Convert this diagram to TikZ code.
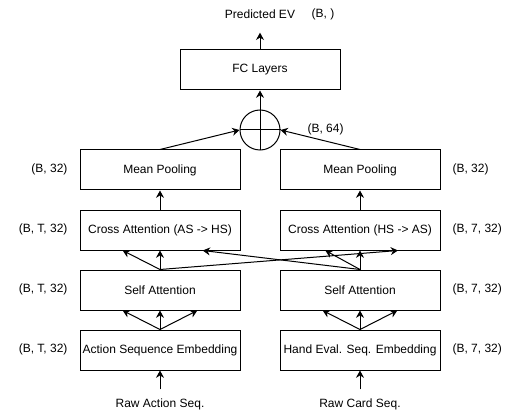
\documentclass[tikz,border=0pt]{standalone}
\usepackage{fontspec}
\setmainfont{Liberation Sans}
\usepackage{tikz}
\usetikzlibrary{arrows.meta}

\begin{document}
\begin{tikzpicture}[x=0.75pt, y=-0.75pt, line width=0.75pt,
        font=\fontsize{9}{11}\selectfont,
        block/.style={draw, minimum width=120pt, minimum height=30pt, inner sep=1pt},
        dim/.style={inner sep=0pt},
        arr/.style={-{Stealth[length=5.5pt, width=6pt, inset=1.8pt]}}]
        \useasboundingbox (0,0) rectangle (520,420);

        \node (out) at (260,14) {Predicted EV};
        \node[dim] (outdim) at (323,14) {(B, )};
        \node[block] (fc) at (260,70) {FC Layers};
        \node[circle, draw, minimum size=30pt, inner sep=0pt] (sum) at (260,130) {};
        \node[dim, anchor=west] (sumdim) at (307,129) {(B, 64)};

        \node[block] (mpA) at (160,170) {Mean Pooling};
        \node[block] (mpB) at (360,170) {Mean Pooling};
        \node[block] (caA) at (160,230) {Cross Attention (AS -> HS)};
        \node[block] (caB) at (360,230) {Cross Attention (HS -> AS)};
        \node[block] (saA) at (160,290) {Self Attention};
        \node[block] (saB) at (360,290) {Self Attention};
        \node[block] (embA) at (160,350) {Action Sequence Embedding};
        \node[block] (embB) at (360,350) {Hand Eval. Seq. Embedding};
        \node (rawA) at (160,404) {Raw Action Seq.};
        \node (rawB) at (360,404) {Raw Card Seq.};

        \node[dim, anchor=east] (mpAdim) at (68,169) {(B, 32)};
        \node[dim, anchor=west] (mpBdim) at (452,169) {(B, 32)};
        \node[dim, anchor=east] (caAdim) at (68,229) {(B, T, 32)};
        \node[dim, anchor=west] (caBdim) at (452,229) {(B, 7, 32)};
        \node[dim, anchor=east] (saAdim) at (68,289) {(B, T, 32)};
        \node[dim, anchor=west] (saBdim) at (452,289) {(B, 7, 32)};
        \node[dim, anchor=east] (embAdim) at (68,349) {(B, T, 32)};
        \node[dim, anchor=west] (embBdim) at (452,349) {(B, 7, 32)};

        % inputs
        \draw[arr, shorten <=3pt] (rawA.north) -- (embA.south);
        \draw[arr, shorten <=3pt] (rawB.north) -- (embB.south);

        % embedding -> self attention
        \draw[arr] (embA.north) -- ([xshift=-28pt]saA.south);
        \draw[arr] (embA.north) -- (saA.south);
        \draw[arr] (embA.north) -- ([xshift=28pt]saA.south);
        \draw[arr] (embB.north) -- ([xshift=-28pt]saB.south);
        \draw[arr] (embB.north) -- (saB.south);
        \draw[arr] (embB.north) -- ([xshift=28pt]saB.south);

        % self attention -> cross attention
        \draw[arr] (saA.north) -- ([xshift=-28pt]caA.south);
        \draw[arr] (saA.north) -- (caA.south);
        \draw[arr] (saA.north) -- ([xshift=28.5pt]caB.south);
        \draw[arr] (saB.north) -- ([xshift=-26pt]caB.south);
        \draw[arr] (saB.north) -- (caB.south);
        \draw[arr] (saB.north) -- ([xshift=32pt]caA.south);

        \draw[arr] (caA.north) -- (mpA.south);
        \draw[arr] (caB.north) -- (mpB.south);

        % concat
        \draw[arr] (mpA.north) -- (sum.west);
        \draw[arr] (mpB.north) -- (sum.east);
        \draw (sum.west) -- (sum.east);
        \draw (sum.north) -- (sum.south);
        \draw[arr] (sum.north) -- (fc.south);
        \draw[arr, shorten >=7pt] (fc.north) -- (out.south);
\end{tikzpicture}
\end{document}
